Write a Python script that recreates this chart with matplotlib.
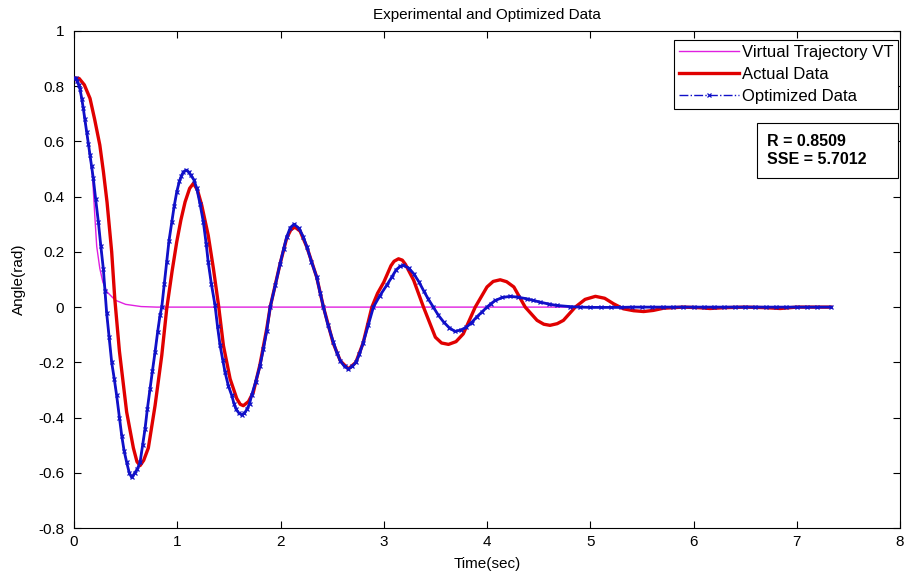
import matplotlib
matplotlib.use("Agg")
import matplotlib.pyplot as plt
from matplotlib.patches import Rectangle
from matplotlib.ticker import FuncFormatter, MultipleLocator

plt.rcParams["font.family"] = ["Liberation Sans", "DejaVu Sans"]

# virtual trajectory (magenta)
vt_t = [0.0, 0.05, 0.10, 0.15, 0.18, 0.20, 0.22, 0.25, 0.28, 0.32, 0.40, 0.50, 0.65, 0.80, 7.33]
vt_y = [0.83, 0.80, 0.70, 0.56, 0.47, 0.34, 0.22, 0.14, 0.09, 0.055, 0.025, 0.01, 0.002, 0.0, 0.0]

# actual data (red)
act_t = [0.0, 0.05, 0.10, 0.155, 0.20, 0.25, 0.285, 0.32, 0.365, 0.395, 0.44, 0.475, 0.51,
         0.575, 0.61, 0.64, 0.675, 0.72, 0.785, 0.85, 0.898, 0.95, 0.995, 1.035, 1.076, 1.12,
         1.156, 1.195, 1.237, 1.30, 1.35, 1.40, 1.447, 1.512, 1.576, 1.61, 1.64, 1.69, 1.737,
         1.80, 1.867, 1.90, 1.996, 2.06, 2.10, 2.14, 2.19, 2.255, 2.35, 2.416, 2.51, 2.58,
         2.658, 2.73, 2.80, 2.885, 2.94, 3.0, 3.07, 3.10, 3.143, 3.18, 3.21, 3.29, 3.385, 3.50,
         3.56, 3.627, 3.70, 3.77, 3.886, 4.0, 4.06, 4.128, 4.19, 4.26, 4.37, 4.485, 4.55, 4.61,
         4.68, 4.74, 4.855, 4.95, 5.05, 5.14, 5.226, 5.32, 5.42, 5.517, 5.61, 5.71, 5.9, 6.05,
         6.16, 6.3, 6.5, 6.7, 6.84, 7.0, 7.33]
act_y = [0.83, 0.828, 0.805, 0.756, 0.68, 0.587, 0.49, 0.38, 0.20, 0.03, -0.16, -0.27, -0.38,
         -0.51, -0.56, -0.574, -0.555, -0.51, -0.357, -0.175, -0.006, 0.13, 0.236, 0.315, 0.381, 0.43,
         0.448, 0.425, 0.369, 0.26, 0.14, 0.006, -0.139, -0.26, -0.331, -0.352, -0.357, -0.342, -0.308,
         -0.21, -0.078, 0.0, 0.157, 0.25, 0.28, 0.29, 0.275, 0.218, 0.109, 0.0, -0.13, -0.195,
         -0.224, -0.20, -0.13, 0.0, 0.05, 0.09, 0.15, 0.166, 0.175, 0.17, 0.155, 0.097, 0.0, -0.109,
         -0.13, -0.135, -0.125, -0.097, 0.0, 0.073, 0.093, 0.099, 0.092, 0.073, 0.0, -0.048, -0.062, -0.066,
         -0.06, -0.048, 0.0, 0.028, 0.039, 0.032, 0.012, -0.006, -0.013, -0.016, -0.012, -0.004, 0.0, -0.002,
         -0.005, -0.002, 0.0, -0.002, -0.005, 0.0, 0.0]

# optimized data (blue), ten values per row
opt_t = [0.0, 0.015, 0.03, 0.045, 0.058, 0.075, 0.09, 0.105, 0.123, 0.14,
         0.155, 0.17, 0.187, 0.21, 0.236, 0.26, 0.284, 0.30, 0.316, 0.34,
         0.365, 0.39, 0.413, 0.44, 0.462, 0.485, 0.51, 0.535, 0.559, 0.59,
         0.615, 0.64, 0.665, 0.688, 0.71, 0.736, 0.76, 0.785, 0.81, 0.833,
         0.85, 0.875, 0.898, 0.92, 0.947, 0.97, 0.995, 1.02, 1.04, 1.06,
         1.085, 1.11, 1.13, 1.16, 1.189, 1.22, 1.253, 1.28, 1.30, 1.33,
         1.366, 1.39, 1.415, 1.44, 1.463, 1.495, 1.528, 1.55, 1.57, 1.6,
         1.625, 1.65, 1.675, 1.70, 1.72, 1.76, 1.80, 1.835, 1.867, 1.90,
         1.95, 1.996, 2.03, 2.06, 2.095, 2.132, 2.18, 2.22, 2.255, 2.30,
         2.35, 2.385, 2.416, 2.46, 2.51, 2.545, 2.58, 2.62, 2.658, 2.695,
         2.73, 2.765, 2.80, 2.85, 2.90, 2.96, 3.03, 3.08, 3.12, 3.16,
         3.19, 3.24, 3.29, 3.34, 3.385, 3.43, 3.48, 3.53, 3.58, 3.635,
         3.69, 3.745, 3.80, 3.85, 3.90, 3.95, 4.0, 4.04, 4.08, 4.15,
         4.225, 4.30, 4.386, 4.45, 4.515, 4.6, 4.677, 4.8, 4.9, 5.0,
         5.1, 5.2, 5.3, 5.4, 5.5, 5.6, 5.7, 5.8, 5.9, 6.0,
         6.1, 6.2, 6.3, 6.4, 6.5, 6.6, 6.7, 6.8, 6.9, 7.0,
         7.1, 7.2, 7.33]
opt_y = [0.83, 0.828, 0.82, 0.805, 0.79, 0.755, 0.72, 0.68, 0.635, 0.59,
         0.55, 0.51, 0.466, 0.39, 0.308, 0.22, 0.139, 0.06, -0.02, -0.11,
         -0.20, -0.26, -0.32, -0.40, -0.465, -0.52, -0.562, -0.60, -0.617, -0.60,
         -0.585, -0.562, -0.50, -0.441, -0.37, -0.296, -0.23, -0.163, -0.09, -0.03,
         0.0, 0.085, 0.163, 0.24, 0.308, 0.365, 0.417, 0.455, 0.475, 0.49,
         0.496, 0.49, 0.478, 0.462, 0.43, 0.375, 0.308, 0.23, 0.163, 0.085,
         0.006, -0.07, -0.139, -0.19, -0.236, -0.285, -0.32, -0.35, -0.37, -0.385,
         -0.39, -0.385, -0.37, -0.35, -0.32, -0.27, -0.215, -0.15, -0.085, 0.0,
         0.08, 0.157, 0.21, 0.254, 0.288, 0.30, 0.285, 0.255, 0.218, 0.165,
         0.109, 0.05, 0.0, -0.065, -0.125, -0.165, -0.195, -0.215, -0.224, -0.215,
         -0.20, -0.17, -0.13, -0.065, 0.0, 0.04, 0.08, 0.11, 0.135, 0.148,
         0.151, 0.142, 0.121, 0.092, 0.06, 0.03, 0.0, -0.03, -0.054, -0.075,
         -0.088, -0.083, -0.073, -0.056, -0.036, -0.018, 0.0, 0.013, 0.024, 0.035,
         0.039, 0.036, 0.03, 0.024, 0.018, 0.011, 0.006, 0.002, 0.0, -0.001,
         -0.001, -0.001, -0.001, 0.0, 0.0, 0.0, 0.0, 0.0, 0.0, 0.0,
         0.0, 0.0, 0.0, 0.0, 0.0, 0.0, 0.0, 0.0, 0.0, 0.0,
         0.0, 0.0, 0.0]

stats_text = "R = 0.8509\nSSE = 5.7012"

fig = plt.figure(figsize=(9.1, 5.75), dpi=100)
ax = fig.add_axes([74 / 910, 1 - 528 / 575, 826 / 910, 497 / 575])

ax.plot(vt_t, vt_y, color="#e020e0", lw=1.0, label="Virtual Trajectory VT")
ax.plot(act_t, act_y, color="#e00000", lw=2.4, label="Actual Data")
# dense marker band of the optimized series
ax.plot(opt_t, opt_y, color="#1010c8", lw=2.0, zorder=3)
ax.plot(opt_t, opt_y, color="#1010c8", lw=1.0, ls="-.", marker="x", ms=3.5, mew=0.9,
        label="Optimized Data", zorder=4)

ax.set_xlim(0, 8)
ax.set_ylim(-0.8, 1)
ax.xaxis.set_major_locator(MultipleLocator(1))
ax.yaxis.set_major_locator(MultipleLocator(0.2))
ax.yaxis.set_major_formatter(FuncFormatter(lambda v, p: "%g" % round(v, 1)))
ax.tick_params(direction="in", length=5, top=True, right=True, labelsize=11, width=0.8)
ax.tick_params(axis="y", pad=7)
ax.tick_params(axis="x", pad=5)
for s in ax.spines.values():
    s.set_linewidth(0.8)

ax.set_title("Experimental and Optimized Data", fontsize=11, pad=9)
ax.set_xlabel("Time(sec)", fontsize=11, labelpad=6)
ax.set_ylabel("Angle(rad)", fontsize=11, labelpad=9)

leg = ax.legend(loc="upper right", bbox_to_anchor=(0.9976, 0.982), fontsize=12,
                fancybox=False, edgecolor="black", framealpha=1, numpoints=1,
                handlelength=3.6, handletextpad=0.15, labelspacing=0.42, borderpad=0.3,
                borderaxespad=0)
leg.get_frame().set_linewidth(0.8)

# fixed-size annotation box
x0, x1 = (757 - 74) / 826, (898 - 74) / 826
y0, y1 = (528 - 178) / 497, (528 - 123) / 497
ax.add_patch(Rectangle((x0, y0), x1 - x0, y1 - y0, transform=ax.transAxes,
                       fc="white", ec="black", lw=0.8, zorder=5))
ax.text(x0 + 10 / 826, (y0 + y1) / 2, stats_text, transform=ax.transAxes, fontsize=11.5,
        fontweight="bold", ha="left", va="center", linespacing=1.25, zorder=6)

fig.savefig("out.png", dpi=100)
